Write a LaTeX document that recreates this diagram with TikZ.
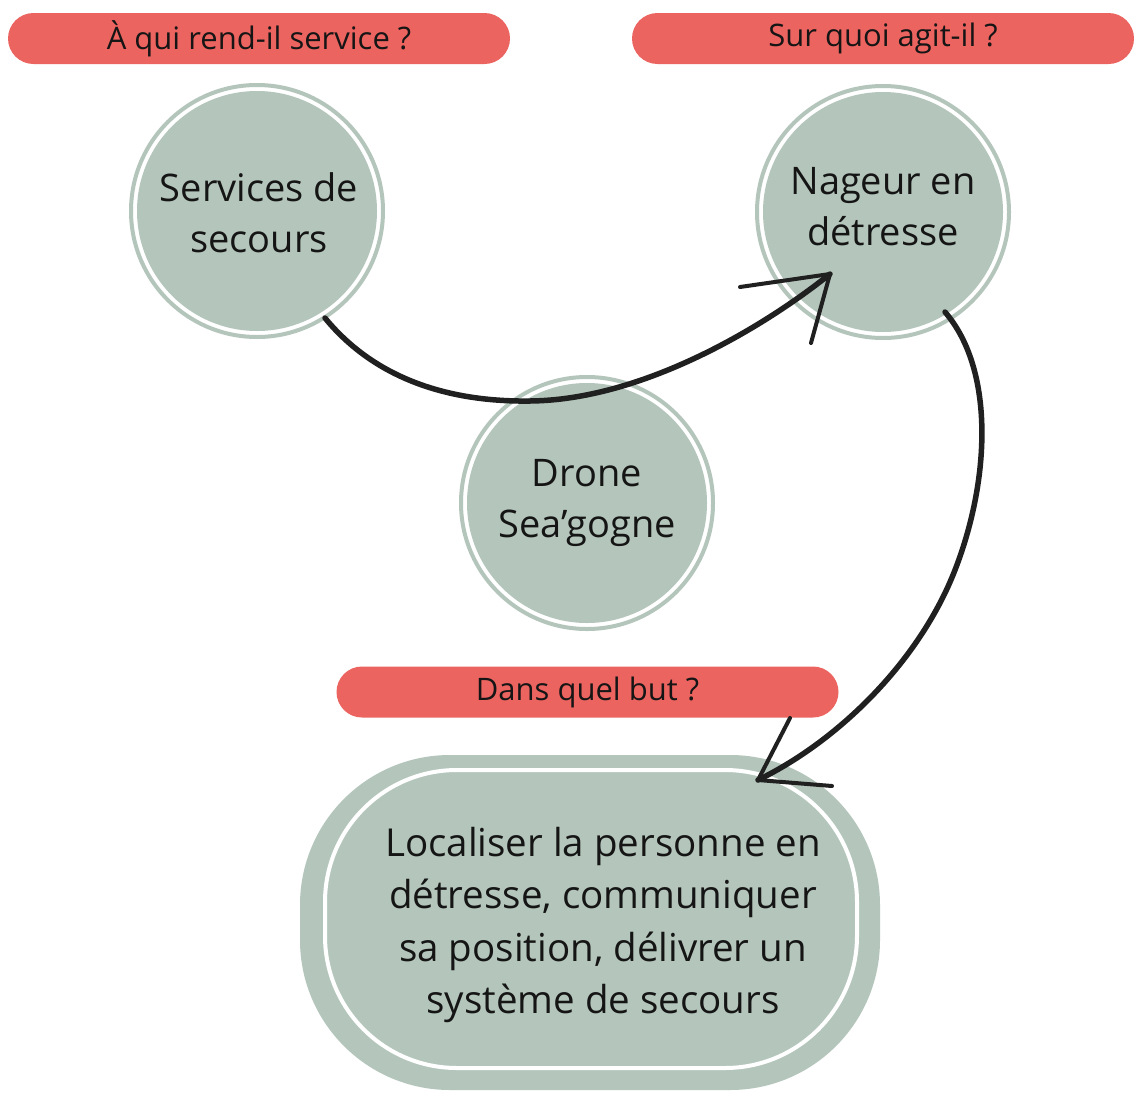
\documentclass[tikz,border=0pt]{standalone}
\usepackage{fontspec}
\setmainfont{Open Sans}
\definecolor{sage}{HTML}{B4C6BB}
\definecolor{coral}{HTML}{EC6460}
\definecolor{ink}{HTML}{151515}
\definecolor{pen}{HTML}{202020}
\begin{document}
\begin{tikzpicture}[x=1pt,y=-1pt,
  pill/.style={fill=coral, rounded corners=25.5pt, minimum width=502pt, minimum height=51pt,
    inner sep=0pt, text=ink, font=\fontsize{31}{36}\selectfont},
  bubble/.style={circle, fill=sage, minimum size=240pt, inner sep=0pt, align=center,
    text=ink, font=\fontsize{38}{53}\selectfont},
  ring/.style={draw=sage, line width=4pt},
  pen/.style={draw=pen, line width=5.5pt, line cap=round, line join=round},
  barb/.style={draw=pen, line width=4pt, line cap=round}]
\useasboundingbox (0,0) rectangle (1146,1114);
\fill[white] (0,0) rectangle (1146,1114);

% question pills
\node[pill] (q1) at (259,38.5) {À qui rend-il service ?};
\node[pill] (q2) at (883,38.5) {Sur quoi agit-il ?};
\node[pill] (q3) at (587.5,692) {Dans quel but ?};

% circles
\node[bubble] (serv) at (257,211) {};
\node[align=center, text=ink, font=\fontsize{38}{53}\selectfont] at (259,213) {Services de\\[-2pt]secours};
\draw[ring] (serv.center) circle[radius=126pt];
\node[bubble] (nag) at (883,212) {};
\node[align=center, text=ink, font=\fontsize{38}{53}\selectfont] at (883,207) {Nageur en\\[-2pt]détresse};
\draw[ring] (nag.center) circle[radius=126pt];
\node[bubble] (drone) at (587,503) {Drone\\[-2pt]Sea’gogne};
\draw[ring] (drone.center) circle[radius=126pt];

% goal box
\fill[sage, rounded corners=150pt] (300,755) rectangle (880,1090);
\draw[white, line width=4pt, rounded corners=132pt] (325,770) rectangle (857,1068);
\node[align=center, text=ink, font=\fontsize{38.5}{52.5}\selectfont] (goal) at (603,925)
  {Localiser la personne en\\détresse, communiquer\\sa position, délivrer un\\système de secours};

% connector 1: services -> nageur
\coordinate (s1) at (325,318);
\coordinate (t1) at (830,274);
\draw[pen] (s1) .. controls (380,385) and (460,402) .. (530,401)
  .. controls (640,400) and (760,330) .. (t1);
\draw[barb] (t1) -- (740,287);
\draw[barb] (t1) -- (811,343);

% connector 2: nageur -> goal
\coordinate (s2) at (945,312);
\coordinate (t2) at (758,780);
\draw[pen] (s2) .. controls (995,370) and (990,480) .. (955,570)
  .. controls (920,660) and (840,740) .. (t2);
\draw[barb] (t2) -- (790,718);
\draw[barb] (t2) -- (832,786);
\end{tikzpicture}
\end{document}
